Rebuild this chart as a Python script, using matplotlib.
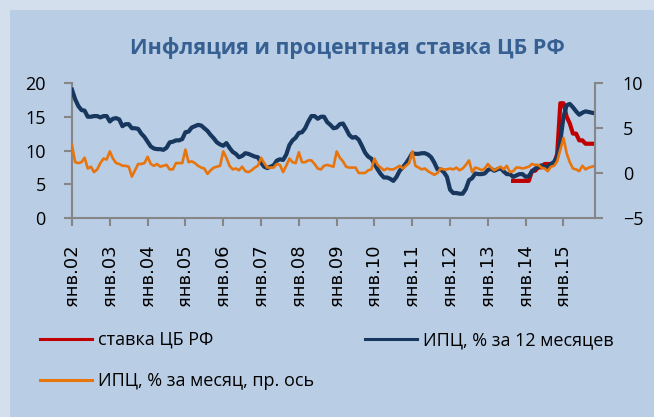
import matplotlib.pyplot as plt
import numpy as np
import pandas as pd
from matplotlib.patches import Rectangle

# ИПЦ, % за 12 месяцев, янв.2002 - ноя.2015
cpi_yoy = [
    19.0, 17.6, 16.6, 16.0, 15.9, 15.0, 15.0, 15.1, 15.1, 14.9, 15.1, 15.1,
    14.3, 14.7, 14.8, 14.6, 13.6, 13.9, 13.9, 13.3, 13.3, 13.2, 12.5, 12.0,
    11.3, 10.6, 10.3, 10.2, 10.2, 10.1, 10.4, 11.2, 11.3, 11.5, 11.5, 11.7,
    12.7, 12.8, 13.4, 13.6, 13.8, 13.7, 13.3, 12.9, 12.3, 11.8, 11.2, 10.9,
    10.7, 11.1, 10.4, 9.8, 9.5, 9.0, 9.2, 9.6, 9.5, 9.3, 9.1, 9.0,
    8.2, 7.6, 7.4, 7.6, 7.8, 8.5, 8.7, 8.6, 9.4, 10.8, 11.5, 11.9,
    12.6, 12.7, 13.3, 14.3, 15.1, 15.1, 14.7, 15.0, 15.0, 14.2, 13.8, 13.3,
    13.4, 13.9, 14.0, 13.2, 12.3, 11.9, 12.0, 11.6, 10.7, 9.7, 9.1, 8.8,
    8.0, 7.2, 6.5, 6.0, 6.0, 5.8, 5.5, 6.1, 7.0, 7.5, 8.1, 8.8,
    9.6, 9.5, 9.5, 9.6, 9.6, 9.4, 9.0, 8.2, 7.2, 7.2, 6.8, 6.1,
    4.2, 3.7, 3.7, 3.6, 3.6, 4.3, 5.6, 5.9, 6.6, 6.5, 6.5, 6.6,
    7.1, 7.3, 7.0, 7.2, 7.4, 6.9, 6.5, 6.5, 6.1, 6.3, 6.5, 6.5,
    6.1, 6.2, 6.9, 7.3, 7.6, 7.8, 7.5, 7.6, 8.0, 8.3, 9.1, 11.4,
    15.0, 16.7, 16.9, 16.4, 15.8, 15.3, 15.6, 15.8, 15.7, 15.6, 15.5,
]

# ИПЦ, % за месяц (правая ось)
cpi_mom = [
    3.1, 1.2, 1.1, 1.2, 1.7, 0.5, 0.7, 0.1, 0.4, 1.1, 1.6, 1.5,
    2.4, 1.6, 1.1, 1.0, 0.8, 0.8, 0.7, -0.4, 0.3, 1.0, 1.0, 1.1,
    1.8, 1.0, 0.8, 1.0, 0.7, 0.8, 0.9, 0.4, 0.4, 1.1, 1.1, 1.1,
    2.6, 1.2, 1.3, 1.1, 0.8, 0.6, 0.5, -0.1, 0.3, 0.6, 0.7, 0.8,
    2.4, 1.7, 0.8, 0.4, 0.5, 0.3, 0.7, 0.2, 0.1, 0.3, 0.6, 0.8,
    1.7, 1.1, 0.6, 0.6, 0.6, 1.0, 0.9, 0.1, 0.8, 1.6, 1.2, 1.1,
    2.3, 1.2, 1.2, 1.4, 1.4, 1.0, 0.5, 0.4, 0.8, 0.9, 0.8, 0.7,
    2.4, 1.7, 1.3, 0.7, 0.6, 0.6, 0.6, 0.0, 0.0, 0.0, 0.3, 0.4,
    1.6, 0.9, 0.6, 0.3, 0.5, 0.4, 0.4, 0.6, 0.8, 0.5, 0.8, 1.1,
    2.4, 0.8, 0.6, 0.4, 0.5, 0.2, 0.0, -0.2, 0.0, 0.5, 0.4, 0.4,
    0.5, 0.4, 0.6, 0.3, 0.5, 0.9, 1.4, 0.1, 0.6, 0.5, 0.3, 0.5,
    1.0, 0.6, 0.3, 0.5, 0.7, 0.4, 0.8, 0.1, 0.2, 0.6, 0.6, 0.5,
    0.6, 0.7, 1.0, 0.9, 0.9, 0.6, 0.5, 0.2, 0.7, 0.8, 1.3, 2.6,
    3.9, 2.2, 1.2, 0.5, 0.4, 0.2, 0.8, 0.4, 0.6, 0.7, 0.8,
]

# ставка ЦБ РФ, с сен.2013
key_rate = [
    5.5, 5.5, 5.5, 5.5, 5.5, 5.5,
    7.0, 7.0, 7.5, 7.5, 8.0, 8.0, 8.0, 8.0, 9.5, 17.0,
    17.0, 15.0, 14.0, 12.5, 12.5, 11.5, 11.5, 11.0, 11.0, 11.0, 11.0,
]
key_rate_from = "2013-09"

tick_labels = ["янв.02", "янв.03", "янв.04", "янв.05", "янв.06", "янв.07", "янв.08",
               "янв.09", "янв.10", "янв.11", "янв.12", "янв.13", "янв.14", "янв.15"]

plt.rcParams['font.family'] = ['Open Sans', 'DejaVu Sans']

months = pd.date_range("2002-01-01", periods=len(cpi_yoy), freq="MS")
x = np.arange(len(months))
x_key = x[months >= pd.Timestamp(key_rate_from)]

W, H = 654, 417
fig = plt.figure(figsize=(W / 100, H / 100), dpi=100)
fig.patch.set_facecolor('#d4dfee')
fig.add_artist(Rectangle((10 / W, 0), 1, 1 - 10 / H, transform=fig.transFigure,
                         facecolor='#b9cde5', edgecolor='none', zorder=0))

ax = fig.add_axes([72 / W, 1 - 218 / H, (595 - 72) / W, 135 / H])
ax.set_facecolor('none')
ax2 = ax.twinx()

grey = '#868686'
l_key, = ax.plot(x_key, key_rate, color='#c00000', lw=3.0, label='ставка ЦБ РФ', zorder=2)
l_yoy, = ax.plot(x, cpi_yoy, color='#17375e', lw=3.0, label='ИПЦ, % за 12 месяцев', zorder=3)
l_mom, = ax2.plot(x, cpi_mom, color='#e8740c', lw=1.9, label='ИПЦ, % за месяц, пр. ось')

ax.set_xlim(0, len(x) - 1)
ax.set_ylim(0, 20)
ax.set_yticks([0, 5, 10, 15, 20])
ax2.set_ylim(-5, 10)
ax2.set_yticks([-5, 0, 5, 10])
ax.set_xticks(x[::12])
ax.set_xticklabels(tick_labels, rotation=90, fontsize=13, family='DejaVu Sans')

for s in ['top', 'right']:
    ax.spines[s].set_visible(False)
for s in ['top', 'left', 'bottom']:
    ax2.spines[s].set_visible(False)
for s in [ax.spines['left'], ax.spines['bottom'], ax2.spines['right']]:
    s.set_color(grey)
    s.set_linewidth(1.5)

ax.tick_params(axis='y', direction='out', length=6, width=1.5, color=grey, pad=13, labelsize=13)
ax.tick_params(axis='x', direction='out', length=6, width=1.5, color=grey, pad=13)
ax2.tick_params(axis='y', direction='out', length=6, width=1.5, color=grey, pad=14, labelsize=13)

fig.text(347 / W, 1 - 48 / H, 'Инфляция и процентная ставка ЦБ РФ', ha='center', va='center',
         fontsize=15.5, fontweight='bold', color='#376092')

leg1 = fig.legend([l_key, l_mom], [l_key.get_label(), l_mom.get_label()],
                  loc='upper left', bbox_to_anchor=(40 / W, 1 - 331 / H), frameon=False,
                  fontsize=13, handlelength=2.9, handletextpad=0.3, borderpad=0,
                  borderaxespad=0, labelspacing=1.3)
leg2 = fig.legend([l_yoy], [l_yoy.get_label()],
                  loc='upper left', bbox_to_anchor=(365 / W, 1 - 331 / H), frameon=False,
                  fontsize=13, handlelength=2.9, handletextpad=0.3, borderpad=0,
                  borderaxespad=0)
for leg in (leg1, leg2):
    for h in leg.get_lines():
        h.set_linewidth(2.2)

fig.savefig('out.png', dpi=100, facecolor=fig.get_facecolor())
